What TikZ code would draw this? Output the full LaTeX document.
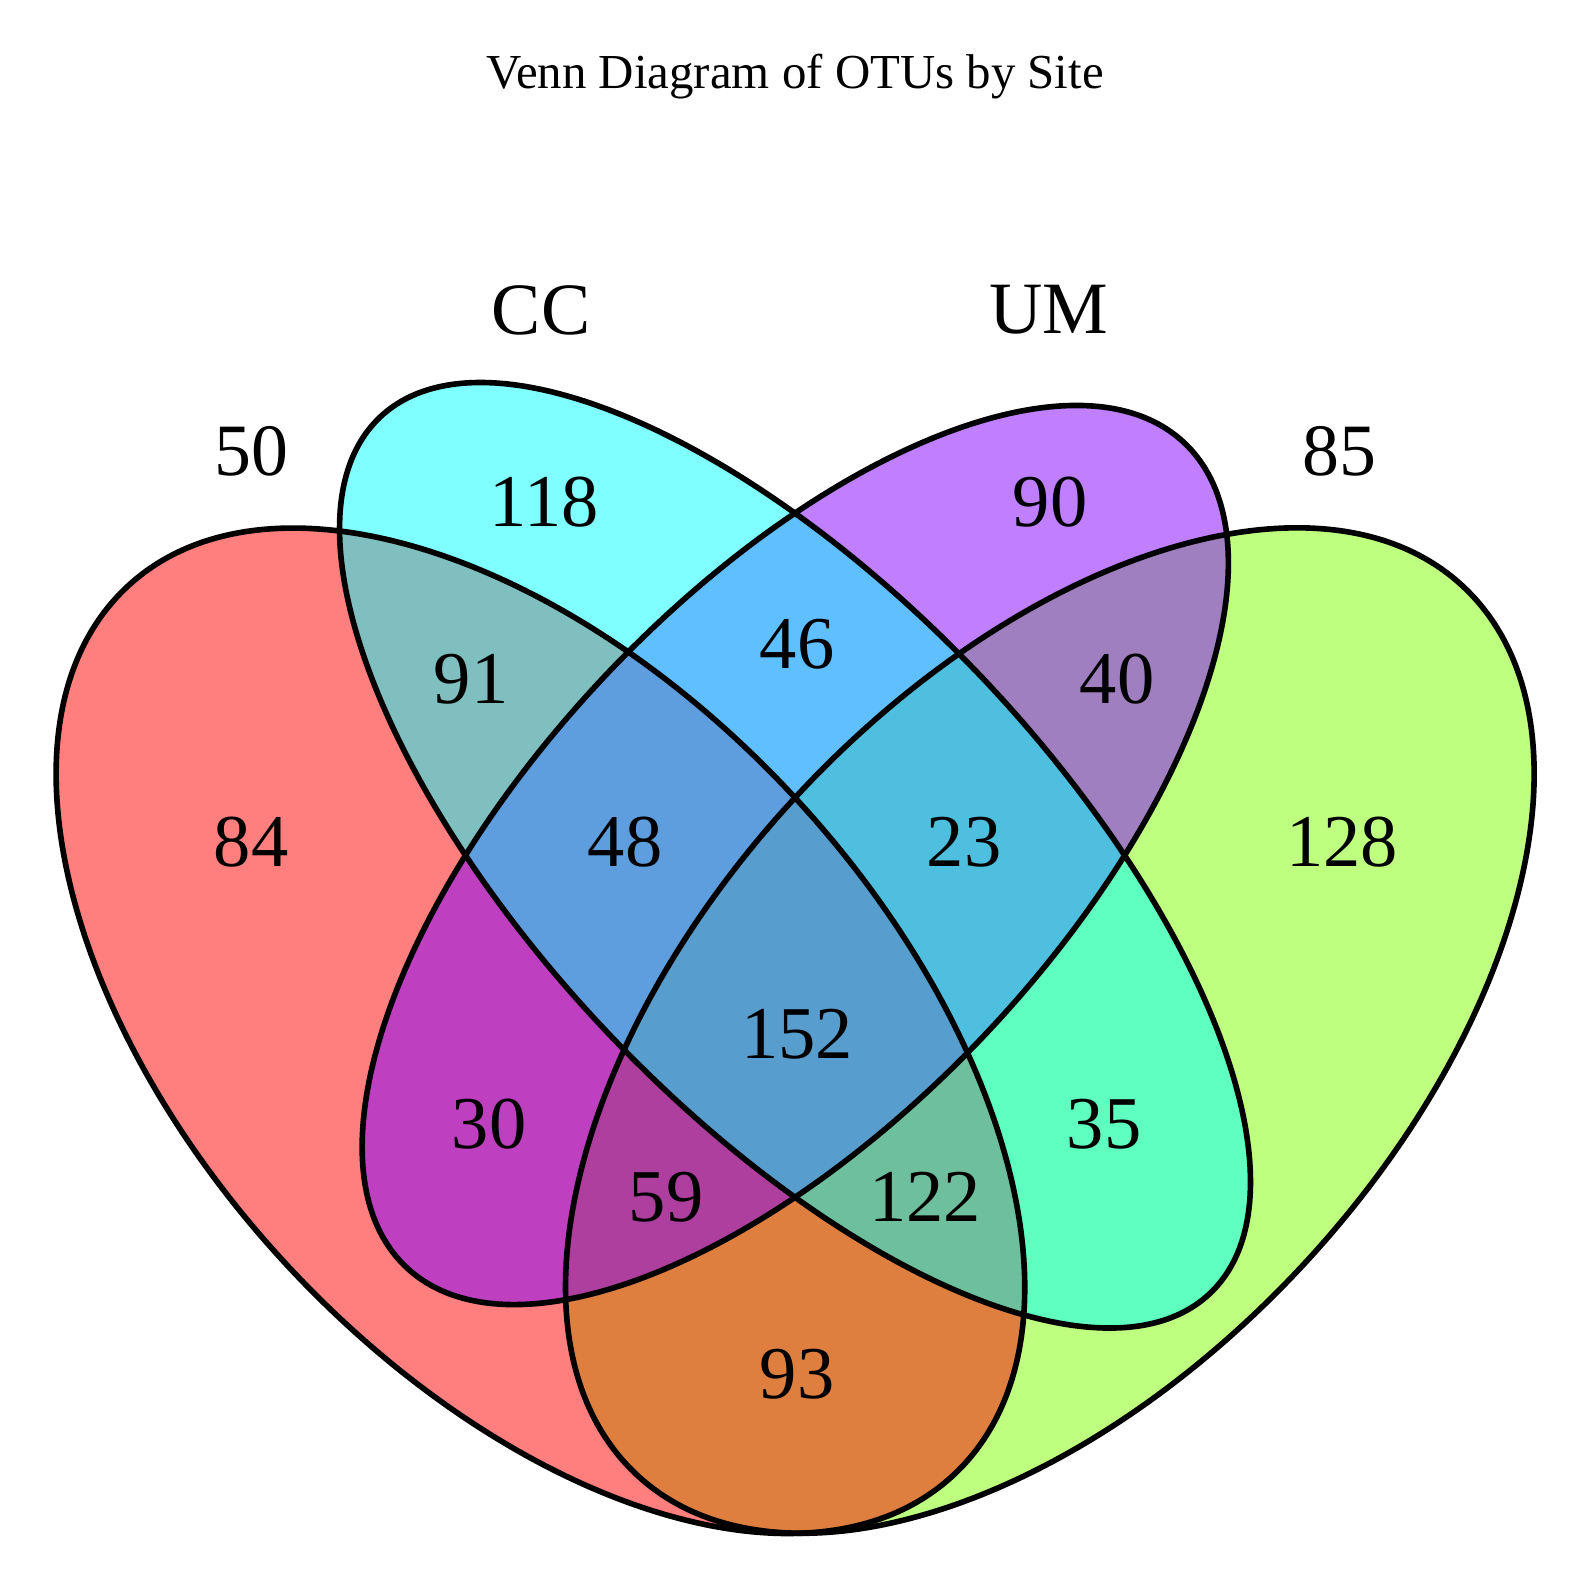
\documentclass[tikz,border=0pt]{standalone}
\usepackage{fontspec}
\setmainfont{Liberation Serif}
\definecolor{vred}{HTML}{FF0000}
\definecolor{vcyan}{HTML}{00FFFF}
\definecolor{vpurple}{HTML}{7F00FF}
\definecolor{vgreen}{HTML}{7FFF00}
\tikzset{
  setfill/.style={fill=#1, fill opacity=0.5, draw=none},
  setline/.style={draw=black, line width=1.6pt},
  count/.style={inner sep=0pt, font=\fontsize{21.2}{25}\selectfont},
  setlabel/.style={inner sep=0pt, font=\fontsize{21}{25}\selectfont},
  titletext/.style={inner sep=0pt, anchor=base, font=\fontsize{13.9}{16}\selectfont}
}
\begin{document}
\begin{tikzpicture}
\useasboundingbox (0,0) rectangle (15.86,-15.73);
\begin{scope}[yscale=1.038]
% centres (y in unscaled units)
\coordinate (cR) at (5.405,-9.928);
\coordinate (cG) at (10.495,-9.928);
\coordinate (cM) at (7.95,-8.237);
% fills (green, red, purple, cyan)
\path[setfill=vgreen, rotate around={45:(cG)}] (cG) ellipse [x radius=5.95, y radius=3.39];
\path[setfill=vred, rotate around={-45:(cR)}] (cR) ellipse [x radius=5.95, y radius=3.39];
\path[setfill=vpurple, rotate around={45:(cM)}] (cM) ellipse [x radius=5.56, y radius=2.566];
\path[setfill=vcyan, rotate around={-45:(cM)}] (cM) ellipse [x radius=5.92, y radius=2.534];
% outlines
\draw[setline, rotate around={45:(cG)}] (cG) ellipse [x radius=5.95, y radius=3.39];
\draw[setline, rotate around={-45:(cR)}] (cR) ellipse [x radius=5.95, y radius=3.39];
\draw[setline, rotate around={45:(cM)}] (cM) ellipse [x radius=5.56, y radius=2.566];
\draw[setline, rotate around={-45:(cM)}] (cM) ellipse [x radius=5.92, y radius=2.534];
\end{scope}
% title
\node[titletext] (title) at (7.95,-0.88) {Venn Diagram of OTUs by Site};
% set labels
\node[setlabel] (lCC) at (5.41,-3.10) {CC};
\node[setlabel] (lUM) at (10.49,-3.10) {UM};
\node[setlabel] (l50) at (2.51,-4.51) {50};
\node[setlabel] (l85) at (13.39,-4.51) {85};
% counts
\node[count] (n118) at (5.44,-5.02) {118};
\node[count] (n90) at (10.50,-5.02) {90};
\node[count] (n46) at (7.97,-6.44) {46};
\node[count] (n91) at (4.71,-6.79) {91};
\node[count] (n40) at (11.17,-6.79) {40};
\node[count] (n84) at (2.51,-8.42) {84};
\node[count] (n48) at (6.25,-8.42) {48};
\node[count] (n23) at (9.64,-8.42) {23};
\node[count] (n128) at (13.42,-8.42) {128};
\node[count] (n152) at (7.97,-10.34) {152};
\node[count] (n30) at (4.89,-11.24) {30};
\node[count] (n35) at (11.04,-11.24) {35};
\node[count] (n59) at (6.66,-11.97) {59};
\node[count] (n122) at (9.25,-11.97) {122};
\node[count] (n93) at (7.97,-13.74) {93};
\end{tikzpicture}
\end{document}
